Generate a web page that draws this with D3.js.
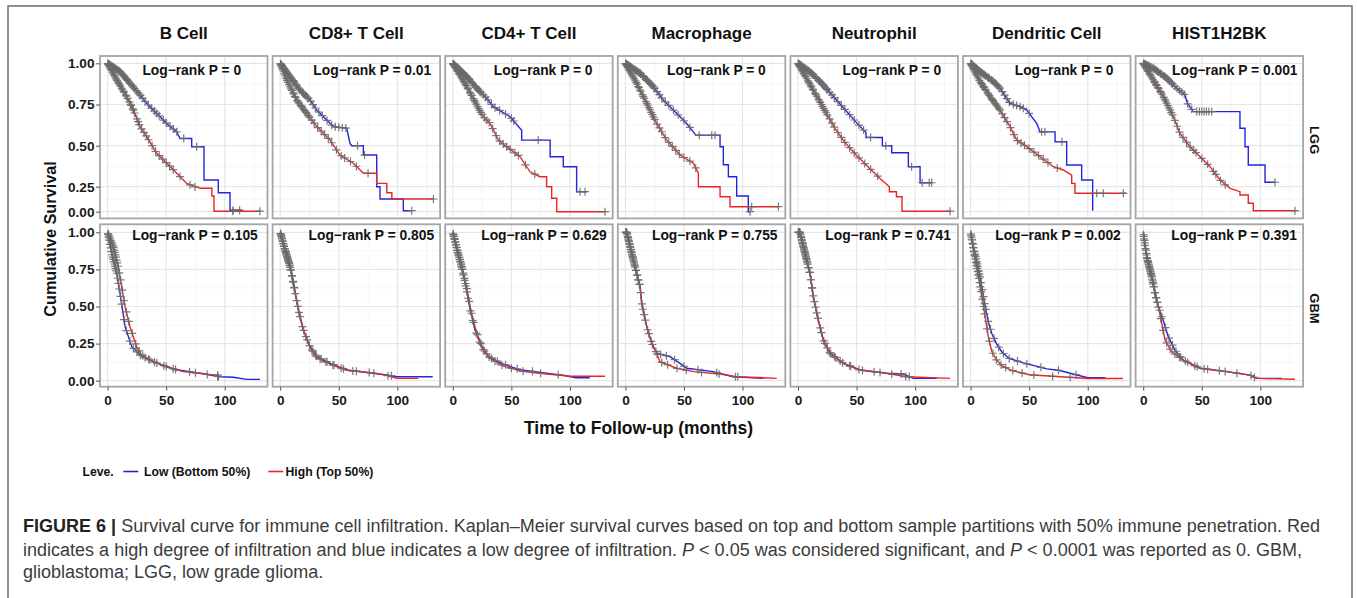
<!DOCTYPE html>
<html>
<head>
<meta charset="utf-8">
<script src="https://cdn.jsdelivr.net/npm/d3@7"></script>
<style>
  body { margin: 0; background: #ffffff; }
  svg { display: block; }
</style>
</head>
<body>
<div id="chart"></div>
<script>
// ---- data ----
const cells = ["B Cell", "CD8+ T Cell", "CD4+ T Cell", "Macrophage", "Neutrophil", "Dendritic Cell", "HIST1H2BK"];
const cohorts = ["LGG", "GBM"];
const pValues = [
  ["0", "0.01", "0", "0", "0", "0", "0.001"],
  ["0.105", "0.805", "0.629", "0.755", "0.741", "0.002", "0.391"]
];
// month where each Log-rank label starts
const pLabelAt = [
  [29.7, 28.3, 35, 35.6, 38, 37.7, 24.6],
  [21, 24.2, 24.3, 22.7, 23.3, 21, 24]
];
const xTicks = [0, 50, 100];
const xMinor = [25, 75, 125];
const yTicks = [0, 0.25, 0.5, 0.75, 1];
const yMinor = [0.125, 0.375, 0.625, 0.875];
const legendLabels = ["Low (Bottom 50%)", "High (Top 50%)"];

// drawn paths of the Kaplan-Meier curves, [month, survival]
const lggLow = [
  [[0,1],[10.6,.95],[19.1,.879],[27.7,.808],[33.4,.757],[41.9,.696],[50.5,.635],[59,.584],[61.8,.544],[71.8,.544],[71.8,.494],[82.3,.494],[82.3,.291],[94.5,.291],[94.5,.19],[104.5,.19],[104.5,.015],[114.5,.015]],
  [[0,1],[8.4,.92],[16.9,.838],[25.4,.777],[31.2,.716],[45.3,.616],[56.8,.606],[59.6,.514],[61,.5],[71,.5],[71,.443],[82.4,.443],[82.4,.25],[85.2,.25],[85.2,.127],[105.1,.127],[105.1,.01],[112.3,.01]],
  [[0,1],[11.9,.92],[20.4,.849],[28.9,.788],[34.6,.737],[48.8,.676],[58.8,.594],[58.8,.534],[83.1,.534],[83.1,.433],[94.3,.433],[94.3,.372],[105.7,.372],[105.7,.2],[114.3,.2]],
  [[0,1],[12.5,.94],[23.8,.859],[32.4,.777],[38.1,.737],[52.3,.635],[58,.584],[60,.564],[80.8,.564],[80.8,.494],[83.6,.494],[83.6,.384],[87.9,.384],[87.9,.311],[95,.311],[95,.157],[104.9,.157],[104.9,0],[106.4,0]],
  [[0,1],[10,.95],[20,.88],[30,.8],[40,.72],[50,.64],[58,.58],[58,.55],[72,.55],[72,.5],[80,.5],[80,.457],[94.2,.457],[94.2,.372],[104.2,.372],[104.2,.274],[114.1,.274]],
  [[0,1],[8,.95],[19.4,.89],[25.1,.849],[33.6,.757],[42.2,.737],[47.9,.716],[56.4,.635],[59.3,.584],[72.1,.584],[72.1,.524],[82,.524],[82,.382],[94.8,.382],[94.8,.291],[104.2,.291],[104.2,.01]],
  [[0,1],[8.6,.97],[20.1,.91],[28.6,.849],[35.7,.808],[37.7,.757],[42.8,.707],[82.6,.707],[82.6,.606],[86.9,.606],[86.9,.494],[89.7,.494],[89.7,.382],[104,.382],[104,.277],[112.5,.277]]
];
const lggHigh = [
  [[0,1],[7.8,.899],[16.3,.797],[22,.716],[27.7,.616],[33.4,.555],[41.9,.454],[50.5,.393],[59,.332],[67.5,.27],[78.9,.234],[89,.234],[89,.157],[90.8,.157],[90.8,.005],[130,.005]],
  [[0,1],[5.5,.899],[14.1,.777],[22.6,.696],[31.2,.616],[42.5,.534],[51,.443],[62.4,.393],[71,.332],[82.4,.332],[82.4,.27],[91,.27],[91,.19],[95.3,.19],[95.3,.127],[130.8,.127]],
  [[0,1],[11.9,.859],[20.4,.747],[26.1,.676],[31.8,.635],[38.9,.534],[46,.494],[57.4,.433],[65.9,.341],[74.4,.311],[80.1,.311],[80.1,.25],[84.4,.25],[84.4,.134],[88.7,.134],[88.7,0],[129.9,0]],
  [[0,1],[9.6,.879],[18.2,.757],[26.7,.635],[35.3,.534],[46.6,.443],[58,.393],[62.3,.332],[62.3,.25],[80.8,.25],[80.8,.15],[89.3,.15],[89.3,.05],[130.6,.05]],
  [[0,1],[8,.9],[16,.8],[24,.7],[32,.6],[40,.52],[50,.44],[60,.37],[70,.3],[78,.25],[78,.2],[84,.2],[84,.15],[88.8,.15],[88.8,.005],[129.8,.005]],
  [[0,1],[8,.89],[16.6,.798],[25.1,.716],[33.6,.616],[39.3,.534],[47.9,.494],[59.3,.433],[70.6,.372],[79.1,.352],[86.3,.321],[86.3,.27],[89.1,.27],[89.1,.184],[132.7,.184]],
  [[0,1],[8.6,.899],[17.2,.798],[25.7,.677],[31.4,.575],[39.9,.494],[48.5,.433],[57,.372],[65.6,.291],[74.1,.234],[82.6,.2],[82.6,.167],[89.7,.167],[89.7,.084],[94,.084],[94,.01],[129.6,.01]]
];
const gbmLow = [
  [[0,1],[3.5,.858],[7.8,.724],[10.6,.589],[14.9,.364],[20.6,.229],[27.7,.173],[39,.128],[56.1,.077],[78.9,.05],[96,.027],[107.3,.023],[118.8,.009],[130.1,.009]],
  [[0,1],[4.1,.881],[8.4,.768],[11.8,.633],[15.5,.476],[19.7,.342],[25.4,.229],[31.2,.162],[42.5,.117],[56.8,.072],[79.5,.05],[90.9,.038],[99.4,.027],[130.2,.027]],
  [[0,1],[4,.87],[8,.75],[11.5,.62],[15,.47],[19,.34],[25,.22],[31,.16],[42,.115],[57,.075],[80,.05],[95,.035],[105,.02],[117,.02]],
  [[0,1],[1.1,1],[5.4,.858],[9.6,.724],[12.5,.633],[13.9,.522],[18.2,.364],[22.5,.252],[26.7,.185],[32.4,.173],[38.1,.162],[46.6,.117],[52.3,.084],[75,.061],[92.1,.027],[117.7,.016]],
  [[0,1],[1.7,1],[6,.858],[10.2,.724],[13.1,.566],[17.3,.409],[21.6,.274],[27.3,.185],[38.7,.117],[52.9,.072],[75.7,.05],[89.9,.045],[98.4,.016],[118.4,.016]],
  [[0,1],[3,.88],[6,.78],[9,.66],[12,.52],[15,.4],[18,.32],[22,.25],[27,.19],[33,.15],[45,.12],[55,.1],[65,.08],[75,.07],[85,.05],[95,.03],[100,.02],[115,.02]],
  [[0,1],[3,.836],[7.3,.701],[10.1,.589],[12.9,.499],[17,.409],[21.4,.297],[27.1,.207],[34.2,.139],[48.5,.084],[71.3,.061],[91.2,.038],[96.9,.016],[118.2,.016]]
];
const gbmHigh = [
  [[0,1],[4.9,.903],[9.1,.768],[12,.633],[14.9,.499],[19.1,.364],[24.8,.229],[29.1,.173],[39,.128],[50.5,.094],[64.6,.061],[78.9,.05],[90.2,.038],[94.5,.038],[94.5,.005],[95,.005]],
  [[0,1],[4.1,.885],[8.4,.772],[11.8,.638],[15.5,.48],[19.7,.345],[25.4,.225],[31.2,.158],[42.5,.112],[56.8,.07],[79.5,.052],[90.9,.036],[99.4,.016],[117.9,.016]],
  [[0,1],[4,.88],[8,.76],[12,.62],[15.5,.47],[20,.33],[26,.21],[32,.15],[43,.1],[58,.065],[80,.045],[95,.035],[100,.03],[130,.03]],
  [[0,1],[1.1,1],[5.4,.858],[9.6,.724],[12.5,.633],[13.9,.522],[18.2,.364],[22.5,.252],[26.7,.185],[29.4,.128],[43.6,.084],[58,.061],[80.8,.045],[95,.027],[129.2,.016]],
  [[0,1],[1.7,1],[6,.858],[10.2,.724],[13.1,.566],[17.3,.409],[21.6,.274],[27.3,.185],[38.7,.117],[52.9,.072],[75.7,.05],[92.8,.027],[129.8,.016]],
  [[0,1],[3,.86],[6,.74],[9,.6],[12,.45],[15,.3],[18,.2],[22,.14],[27,.1],[35,.07],[50,.04],[70,.03],[90,.02],[100,.015],[130,.015]],
  [[0,1],[3,.836],[7.3,.701],[10.1,.589],[12.9,.499],[15.8,.387],[18.6,.274],[24.3,.195],[34.2,.139],[48.5,.084],[71.3,.061],[91.2,.038],[96.9,.016],[129.6,.01]]
];

// censoring times (months)
const lggLowCensor = [
  [0.3,0.9,1.5,2.1,2.8,3.5,4.2,5,5.7,6.5,7.3,8,8.8,9.5,10.3,11,12,13,13.8,14.5,15.5,16.3,17,18,19,20,21,22,23,24.5,26,27,28,30,32,34.8,37.6,40,41.9,44,47.6,50,53.3,56.2,59,65,76,107,112.7],
  [0.3,0.9,1.5,2.1,2.8,3.5,4.2,5,5.7,6.5,7.3,8,9,10,11,11.5,12.5,13.3,14,15.5,16.2,17,18.5,19.5,20,21,22,23,24,26,28,30,33,36,40,44,47,50,53,56,66,72,112.3],
  [0.3,0.9,1.5,2.1,2.8,3.5,4.2,5,5.7,6.5,7.5,8.5,9.3,10,11,11.8,12.5,13.5,14,15.5,16.5,17,18.5,19.5,20,21,22,23,24,26,28,30,33,36,40,45,50,52,72.9,108.6,112.9],
  [0.3,0.9,1.5,2.1,2.8,3.5,4.2,5,5.7,6.5,7.5,8.5,9.3,10,11,11.5,12.5,13,14.5,15.2,16,17.5,18.3,19,20,21,22,23,24,25,27,29,31,34,37,41,45,50,55,63,73.7,76.5,106.4],
  [0.3,0.9,1.5,2.1,2.8,3.5,4.2,5,5.7,6.5,7.5,8.5,9.3,10,11,11.5,12.5,13,14.5,15.2,16,17.5,18.3,19,20,21,22,23,24,25,27,29,31,34,37,40,44,48,52,56,62,75,97,106,112,114.1],
  [0.3,0.9,1.5,2.1,2.8,3.5,4.2,5,5.7,6.5,7.5,8.5,9.3,10,11,11.5,12.5,13,14.5,15.2,16,17.5,18.3,19,20,21,22,23,24,25,27,29,31,33,36.5,39.3,42.2,45,50,60.6,63.4,78],
  [0.3,0.9,1.5,2.1,2.8,3.5,4.2,5,5.7,6.5,7.5,8.5,9.3,10,11,11.5,12.5,13,14.5,15.2,16,17.5,18.3,19,20,21,22,23,24,25,27,29,31,33,35,38,41.4,45.7,48,50,52,54,56,58.5,112.5]
];
const lggHighCensor = [
  [0.3,0.9,1.5,2.1,2.8,3.5,4.2,5,5.7,6.5,7.3,8,8.8,9.5,10.3,11,12,12.5,13.5,14,15.5,16,17,18.5,19.5,20,21.5,22,23,25,26,27,29,31,33,35,38,41,44,47,50,53,56,61.8,70.3,74.6,107,130],
  [0.3,0.9,1.5,2.1,2.8,3.5,4.2,5,5.7,6.5,7.5,8.5,9.3,10,11,11.5,12.5,13,14.5,15.2,16,17.5,18.3,19,20,21,22,23,24,25,27,29,32,35,38,41,44,48,52,55,60,65,75,130.8],
  [0.3,0.9,1.5,2.1,2.8,3.5,4.2,5,5.7,6.5,7.5,8.5,9.3,10,11,11.5,12.5,13,14.5,15.2,16,17.5,18.3,19,20,21,22,23,24,25,27,29,31,34,37,40,43,46,49,53,56,62,70,129.9],
  [0.3,0.9,1.5,2.1,2.8,3.5,4.2,5,5.7,6.5,7.5,8.5,9.3,10,11,11.5,12.5,13,14.5,15.2,16,17.5,18.3,19,20,21,22,23,24,25,27,29,31,34,37,40,43,46,50,55,60,107.8,130.6],
  [0.3,0.9,1.5,2.1,2.8,3.5,4.2,5,5.7,6.5,7.5,8.5,9.3,10,11,11.5,12.5,13,14.5,15.2,16,17.5,18.3,19,20,21,22,23,24,25,27,29,31,34,37,40,44,48,52,57,62,68,129.8],
  [0.3,0.9,1.5,2.1,2.8,3.5,4.2,5,5.7,6.5,7.5,8.5,9.3,10,11,11.5,12.5,13,14.5,15.2,16,17.5,18.3,19,20,21,22,23,24,25,27,29,31,34,37,40,43,46,50,54,58,62,66,74,107.7,113.3,130.4],
  [0.3,0.9,1.5,2.1,2.8,3.5,4.2,5,5.7,6.5,7.5,8.5,9.3,10,11,11.5,12.5,13,14.5,15.2,16,17.5,18.3,19,20,21,22,23,24,25,27,29,31,34,37,40,43,45,50,55,60,62,66,70,129.6]
];
const gbmLowCensor = [
  [0.3,0.8,1.3,2,2.6,3.2,3.8,4.3,4.8,5.3,5.8,6.3,6.8,7.3,7.8,8.5,9.2,10,11,12,14,16,19,22,25,28,32,36,42,50,58,70,85,94],
  [0.3,0.8,1.3,2,2.6,3.2,3.8,4.3,4.8,5.3,5.8,6.3,6.8,7.3,8,8.5,9,10,11,12,14,16,19,22,25,28,31,35,40,46,54,65,80,95],
  [0.3,0.8,1.3,2,2.6,3.2,3.8,4.3,4.8,5.3,5.8,6.3,7,7.5,8,9,10,11,12,13,15,17,20,23,26,29,33,38,45,55,68,90],
  [0.3,0.8,1.3,2,2.5,3,3.6,4.2,4.7,5.2,5.8,6.3,6.8,7.4,8,9,10,11,12,14,16,19,22,26,30,35,42,50,62,78,94],
  [0.3,0.8,1.3,2,2.6,3.2,3.8,4.3,4.8,5.3,5.8,6.3,6.8,7.3,8,9,10,11,12,14,16,19,22,25,28,32,38,45,55,70,88,95],
  [0.3,0.8,1.3,2,2.6,3.2,3.8,4.3,4.8,5.3,5.8,6.3,7,7.5,8,9,10,11,12,13,15,17,20,24,28,33,40,48,60,75,90],
  [0.3,0.8,1.3,2,2.6,3.2,3.8,4.3,4.8,5.3,5.8,6.3,6.8,7.3,8,8.5,9,10,11,12,14,16,19,22,25,28,32,38,46,55,70,92]
];
const gbmHighCensor = [
  [0.5,1,1.6,2.2,2.8,3.4,4,4.6,5.1,5.6,6.1,6.6,7.1,7.7,8.3,9,10,11,12.5,14,16,18,21,24,27,30,35,40,48,56,75,94],
  [0.5,1,1.6,2.2,2.8,3.4,4,4.6,5.1,5.6,6.1,6.6,7.1,7.7,8.3,9,10,11,12,13,15,17,20,23,27,30,34,39,45,52,62,76,92],
  [0.5,1,1.6,2.2,2.8,3.4,4,4.6,5.1,5.6,6.1,6.6,7.1,7.7,8.3,9,10,11,12,14,16,18,21,24,27,31,36,42,50,60,75],
  [0.5,1,1.6,2.2,2.8,3.4,4,4.6,5.1,5.6,6.1,6.6,7.1,7.7,8.3,9,10,11,12,13,15,17,20,23,27,31,36,44,52,65,80,96],
  [0.5,1,1.6,2.2,2.8,3.4,4,4.6,5.1,5.6,6.1,6.6,7.1,7.7,8.3,9,10,11,12,13,15,17,20,23,27,31,36,44,52,65,80,92],
  [0.5,1,1.6,2.2,2.8,3.4,4,4.6,5.1,5.6,6.1,6.6,7.1,7.7,8.3,9,10,11,12,14,16,19,22,26,30,36,44,54,70,85],
  [0.5,1,1.6,2.2,2.8,3.4,4,4.6,5.1,5.6,6.1,6.6,7.1,7.7,8.3,9,10,11,12,13,15,17,20,23,27,31,36,44,52,65,80,95]
];

// ---- layout ----
const W = 1357, H = 598;
const PX0 = 100, PITCH = 172.6, PW = 167.5, PH = 162.4;
const ROW_Y = [56, 224.3];
const BLUE = "#2323e6", RED = "#ea2424", CENSOR = "#6a6a6a";
const FONT = "'Liberation Sans', Arial, Helvetica, sans-serif";

const x = d3.scaleLinear().domain([-6.5, 136.5]).range([0, PW]);
const yTop = d3.scaleLinear().domain([0, 0.25, 0.5, 0.75, 1]).range([155.7, 130.7, 89.7, 48.5, 7.3]);
const yBot = d3.scaleLinear().domain([0, 1]).range([156.4, 8]);

const svg = d3.select("#chart")
  .append("svg")
  .attr("width", W)
  .attr("height", H)
  .style("font-family", FONT);

// figure frame
svg.append("rect")
  .attr("x", 8).attr("y", 6)
  .attr("width", 1344).attr("height", 700)
  .attr("fill", "none")
  .attr("stroke", "#6b6b6b")
  .attr("stroke-width", 1.5);

// position on the drawn curve at time t
function survAt(pts, t) {
  for (let i = 0; i < pts.length - 1; i++) {
    const a = pts[i], b = pts[i + 1];
    if (b[0] > a[0] && t >= a[0] && t <= b[0]) {
      return a[1] + (b[1] - a[1]) * (t - a[0]) / (b[0] - a[0]);
    }
  }
  return pts[pts.length - 1][1];
}

cohorts.forEach((cohort, r) => {
  const y = r === 0 ? yTop : yBot;
  const lows = r === 0 ? lggLow : gbmLow;
  const highs = r === 0 ? lggHigh : gbmHigh;
  const lowCens = r === 0 ? lggLowCensor : gbmLowCensor;
  const highCens = r === 0 ? lggHighCensor : gbmHighCensor;

  cells.forEach((cell, c) => {
    const g = svg.append("g")
      .attr("transform", `translate(${PX0 + c * PITCH},${ROW_Y[r]})`);

    g.append("rect").attr("width", PW).attr("height", PH).attr("fill", "#ffffff");

    // grid
    g.selectAll(".gxm").data(xMinor).enter().append("line")
      .attr("x1", d => x(d)).attr("x2", d => x(d)).attr("y1", 0).attr("y2", PH)
      .attr("stroke", "#f2f2f2").attr("stroke-width", 0.8);
    g.selectAll(".gym").data(yMinor).enter().append("line")
      .attr("x1", 0).attr("x2", PW).attr("y1", d => y(d)).attr("y2", d => y(d))
      .attr("stroke", "#f2f2f2").attr("stroke-width", 0.8);
    g.selectAll(".gx").data(xTicks).enter().append("line")
      .attr("x1", d => x(d)).attr("x2", d => x(d)).attr("y1", 0).attr("y2", PH)
      .attr("stroke", "#e6e6e6").attr("stroke-width", 1.2);
    g.selectAll(".gy").data(yTicks).enter().append("line")
      .attr("x1", 0).attr("x2", PW).attr("y1", d => y(d)).attr("y2", d => y(d))
      .attr("stroke", "#e6e6e6").attr("stroke-width", 1.2);

    const line = d3.line().x(d => x(d[0])).y(d => y(d[1]));

    g.append("path").datum(lows[c])
      .attr("fill", "none").attr("stroke", BLUE).attr("stroke-width", 1.4)
      .attr("d", line);
    g.append("path").datum(highs[c])
      .attr("fill", "none").attr("stroke", RED).attr("stroke-width", 1.4)
      .attr("d", line);

    // censor marks
    const marks = lowCens[c].map(t => [t, survAt(lows[c], t)])
      .concat(highCens[c].map(t => [t, survAt(highs[c], t)]));
    g.selectAll(".cens").data(marks).enter().append("path")
      .attr("transform", d => `translate(${x(d[0])},${y(d[1])})`)
      .attr("d", "M-4,0H4M0,-4V4")
      .attr("stroke", CENSOR).attr("stroke-width", 1.2).attr("fill", "none")
      .attr("stroke-opacity", 0.9);

    // panel border
    g.append("rect").attr("width", PW).attr("height", PH)
      .attr("fill", "none").attr("stroke", "#a6a6a6").attr("stroke-width", 1.8);

    // log-rank label
    g.append("text")
      .attr("x", x(pLabelAt[r][c]))
      .attr("y", r === 0 ? 19 : 16)
      .style("font-size", "13.8px")
      .style("font-weight", "bold")
      .style("fill", "#111")
      .text(`Log\u2212rank P = ${pValues[r][c]}`);

    // axes
    if (c === 0) {
      const ya = g.append("g")
        .call(d3.axisLeft(y).tickValues(yTicks).tickFormat(d3.format(".2f")).tickSize(4).tickPadding(1.5));
      ya.select(".domain").remove();
      ya.selectAll("line").attr("stroke", "#555");
      ya.selectAll("text").style("font-family", FONT).style("font-size", "13.6px")
        .style("font-weight", "bold").style("fill", "#1a1a1a");
    }
    if (r === 1) {
      const xa = g.append("g")
        .attr("transform", `translate(0,${PH})`)
        .call(d3.axisBottom(x).tickValues(xTicks).tickSize(4).tickPadding(4.5));
      xa.select(".domain").remove();
      xa.selectAll("line").attr("stroke", "#555");
      xa.selectAll("text").style("font-family", FONT).style("font-size", "13.6px")
        .style("font-weight", "bold").style("fill", "#1a1a1a");
    }

    // top strip
    if (r === 0) {
      svg.append("text")
        .attr("x", PX0 + c * PITCH + PW / 2)
        .attr("y", 38.5)
        .attr("text-anchor", "middle")
        .style("font-size", "17px")
        .style("font-weight", "bold")
        .style("fill", "#111")
        .text(cell);
    }
  });

  // right strip
  svg.append("text")
    .attr("transform", `translate(1309.5,${ROW_Y[r] + PH / 2 + 3}) rotate(90)`)
    .attr("text-anchor", "middle")
    .style("font-size", "13px")
    .style("font-weight", "bold")
    .style("fill", "#111")
    .text(cohort);
});

// axis titles
svg.append("text")
  .attr("transform", "translate(56,239) rotate(-90)")
  .attr("text-anchor", "middle")
  .style("font-size", "16.3px")
  .style("font-weight", "bold")
  .style("fill", "#111")
  .text("Cumulative Survival");

svg.append("text")
  .attr("x", 638.5)
  .attr("y", 433.5)
  .attr("text-anchor", "middle")
  .style("font-size", "17.5px")
  .style("font-weight", "bold")
  .style("fill", "#111")
  .text("Time to Follow-up (months)");

// legend
const legend = svg.append("g").style("font-size", "12.2px").style("font-weight", "bold").style("fill", "#111");
legend.append("text").attr("x", 82.5).attr("y", 476).text("Leve.");
[[123.3, 144, BLUE], [268.3, 285.5, RED]].forEach(([lx, tx, col], i) => {
  legend.append("line")
    .attr("x1", lx).attr("x2", lx + 15).attr("y1", 471.5).attr("y2", 471.5)
    .attr("stroke", col).attr("stroke-width", 1.6);
  legend.append("text").attr("x", tx).attr("y", 476).text(legendLabels[i]);
});

// caption
const captionLines = [
  [["FIGURE 6 | ", "bold"], ["Survival curve for immune cell infiltration. Kaplan\u2013Meier survival curves based on top and bottom sample partitions with 50% immune penetration. Red", ""]],
  [["indicates a high degree of infiltration and blue indicates a low degree of infiltration. ", ""], ["P", "italic"], [" < 0.05 was considered significant, and ", ""], ["P", "italic"], [" < 0.0001 was reported as 0. GBM,", ""]],
  [["glioblastoma; LGG, low grade glioma.", ""]]
];
const captionY = [532, 555.5, 578];
const captionWidth = [1297, 1279, null];

const capTexts = captionLines.map((parts, i) => {
  const t = svg.append("text")
    .attr("x", 23)
    .attr("y", captionY[i])
    .style("font-size", "16px")
    .style("fill", "#3c3c3c");
  parts.forEach(([s, kind]) => {
    const sp = t.append("tspan").text(s);
    if (kind === "bold") sp.style("font-weight", "bold").style("fill", "#222");
    if (kind === "italic") sp.style("font-style", "italic");
  });
  return t;
});
const natural = capTexts[1].node().getComputedTextLength();
const capSize = 16 * captionWidth[1] / natural;
capTexts.forEach((t, i) => {
  t.style("font-size", capSize + "px");
  if (captionWidth[i]) t.attr("textLength", captionWidth[i]).attr("lengthAdjust", "spacing");
});
</script>
</body>
</html>
